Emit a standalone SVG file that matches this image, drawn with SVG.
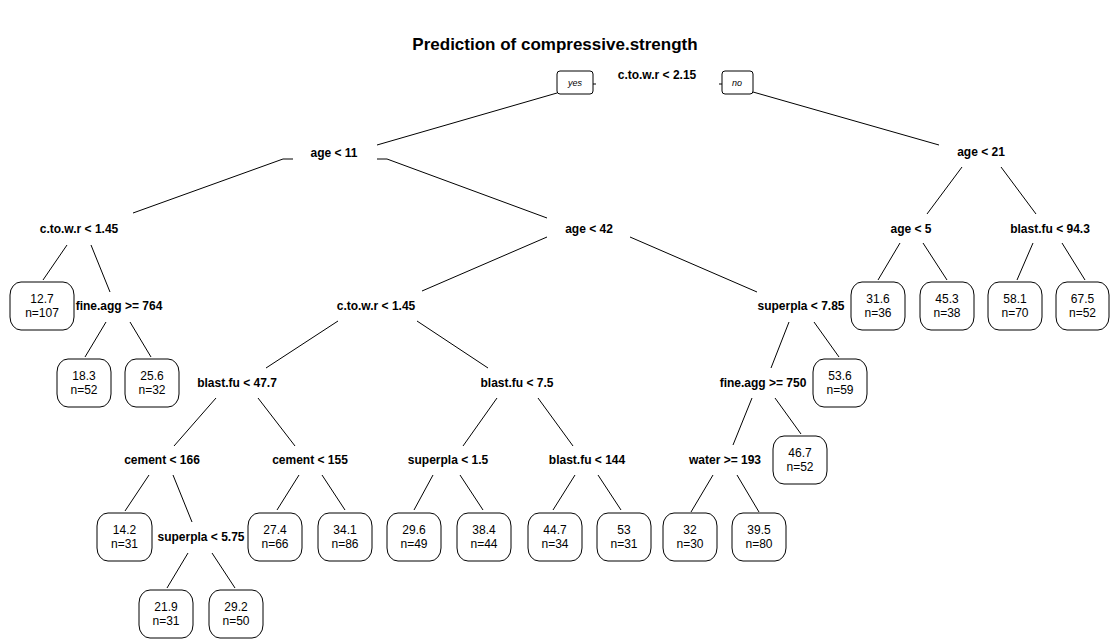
<svg xmlns="http://www.w3.org/2000/svg" width="1110" height="639" viewBox="0 0 1110 639">
<style>
.t{font-family:"Liberation Sans",Arial,sans-serif;font-size:17px;font-weight:bold;fill:#000;text-anchor:middle}
.s{font-family:"Liberation Sans",Arial,sans-serif;font-size:12px;font-weight:bold;fill:#000;text-anchor:middle}
.v{font-family:"Liberation Sans",Arial,sans-serif;font-size:12px;fill:#000;text-anchor:middle}
.yn{font-family:"Liberation Sans",Arial,sans-serif;font-size:9px;font-style:italic;fill:#000;text-anchor:middle}
.box{fill:#fff;stroke:#000;stroke-width:1}
.c line,.c polyline{stroke:#000;stroke-width:1;fill:none}
</style>
<rect width="1110" height="639" fill="#fff"/>
<text class="t" x="555" y="50">Prediction of compressive.strength</text>
<g class="c" id="connectors">
<line x1="557" y1="93" x2="377" y2="145"/>
<line x1="753" y1="92" x2="939" y2="145"/>
<line x1="593" y1="84" x2="596" y2="84"/>
<line x1="719" y1="84" x2="722" y2="84"/>
<polyline points="293,159 283,159 133,213"/>
<polyline points="377,159 387,159 547,218"/>
<line x1="962" y1="167" x2="927" y2="214"/>
<line x1="1001" y1="167" x2="1036" y2="214"/>
<line x1="67" y1="245" x2="43" y2="280"/>
<line x1="91" y1="245" x2="110" y2="292"/>
<line x1="547" y1="237" x2="422" y2="291"/>
<line x1="630" y1="237" x2="757" y2="292"/>
<line x1="900" y1="243" x2="878" y2="280"/>
<line x1="923" y1="243" x2="947" y2="280"/>
<line x1="1033" y1="243" x2="1017" y2="280"/>
<line x1="1062" y1="243" x2="1085" y2="280"/>
<line x1="106" y1="322" x2="85" y2="357"/>
<line x1="130" y1="322" x2="151" y2="357"/>
<line x1="338" y1="321" x2="266" y2="368"/>
<line x1="417" y1="321" x2="488" y2="368"/>
<line x1="789" y1="322" x2="771" y2="368"/>
<line x1="814" y1="322" x2="839" y2="357"/>
<line x1="216" y1="398" x2="174" y2="446"/>
<line x1="258" y1="398" x2="295" y2="446"/>
<line x1="497" y1="398" x2="463" y2="446"/>
<line x1="538" y1="398" x2="573" y2="446"/>
<line x1="752" y1="398" x2="733" y2="445"/>
<line x1="775" y1="398" x2="801" y2="434"/>
<line x1="149" y1="475" x2="125" y2="511"/>
<line x1="173" y1="475" x2="192" y2="522"/>
<line x1="299" y1="475" x2="277" y2="510"/>
<line x1="322" y1="475" x2="345" y2="510"/>
<line x1="433" y1="475" x2="414" y2="510"/>
<line x1="460" y1="475" x2="483" y2="510"/>
<line x1="575" y1="475" x2="553" y2="510"/>
<line x1="598" y1="475" x2="621" y2="510"/>
<line x1="713" y1="475" x2="691" y2="512"/>
<line x1="737" y1="475" x2="759" y2="512"/>
<line x1="188" y1="553" x2="167" y2="588"/>
<line x1="212" y1="553" x2="235" y2="588"/>
</g>
<g id="n_root"><text class="s" x="657" y="79">c.to.w.r &lt; 2.15</text></g>
<g id="n_yes"><rect class="box" x="557" y="71" width="36" height="23" rx="3"/><text class="yn" x="575" y="86">yes</text></g>
<g id="n_no"><rect class="box" x="722" y="71" width="31" height="23" rx="3"/><text class="yn" x="737" y="86">no</text></g>
<g id="n_age11"><text class="s" x="334" y="157">age &lt; 11</text></g>
<g id="n_age21"><text class="s" x="981" y="156">age &lt; 21</text></g>
<g id="n_ctow145a"><text class="s" x="79" y="233">c.to.w.r &lt; 1.45</text></g>
<g id="n_age42"><text class="s" x="589" y="233">age &lt; 42</text></g>
<g id="n_age5"><text class="s" x="911" y="233">age &lt; 5</text></g>
<g id="n_blast943"><text class="s" x="1050" y="233">blast.fu &lt; 94.3</text></g>
<g id="n_fine764"><text class="s" x="119" y="310">fine.agg &gt;= 764</text></g>
<g id="n_ctow145b"><text class="s" x="376" y="310">c.to.w.r &lt; 1.45</text></g>
<g id="n_super785"><text class="s" x="801" y="310">superpla &lt; 7.85</text></g>
<g id="n_blast477"><text class="s" x="237" y="387">blast.fu &lt; 47.7</text></g>
<g id="n_blast75"><text class="s" x="517" y="387">blast.fu &lt; 7.5</text></g>
<g id="n_fine750"><text class="s" x="763" y="387">fine.agg &gt;= 750</text></g>
<g id="n_cement166"><text class="s" x="162" y="464">cement &lt; 166</text></g>
<g id="n_cement155"><text class="s" x="310" y="464">cement &lt; 155</text></g>
<g id="n_super15"><text class="s" x="448" y="464">superpla &lt; 1.5</text></g>
<g id="n_blast144"><text class="s" x="587" y="464">blast.fu &lt; 144</text></g>
<g id="n_water193"><text class="s" x="725" y="464">water &gt;= 193</text></g>
<g id="n_super575"><text class="s" x="201" y="541">superpla &lt; 5.75</text></g>
<g id="leaf_127"><rect class="box" x="10" y="282" width="64" height="48" rx="11" ry="13"/><text class="v" x="42" y="303">12.7</text><text class="v" x="42" y="317">n=107</text></g>
<g id="leaf_183"><rect class="box" x="57" y="359" width="54" height="48" rx="11" ry="13"/><text class="v" x="84" y="380">18.3</text><text class="v" x="84" y="394">n=52</text></g>
<g id="leaf_256"><rect class="box" x="125" y="359" width="54" height="48" rx="11" ry="13"/><text class="v" x="152" y="380">25.6</text><text class="v" x="152" y="394">n=32</text></g>
<g id="leaf_142"><rect class="box" x="97" y="513" width="55" height="48" rx="11" ry="13"/><text class="v" x="124.5" y="534">14.2</text><text class="v" x="124.5" y="548">n=31</text></g>
<g id="leaf_219"><rect class="box" x="139" y="590" width="54" height="48" rx="11" ry="13"/><text class="v" x="166" y="611">21.9</text><text class="v" x="166" y="625">n=31</text></g>
<g id="leaf_292"><rect class="box" x="209" y="590" width="54" height="48" rx="11" ry="13"/><text class="v" x="236" y="611">29.2</text><text class="v" x="236" y="625">n=50</text></g>
<g id="leaf_274"><rect class="box" x="248" y="513" width="54" height="48" rx="11" ry="13"/><text class="v" x="275" y="534">27.4</text><text class="v" x="275" y="548">n=66</text></g>
<g id="leaf_341"><rect class="box" x="318" y="513" width="54" height="48" rx="11" ry="13"/><text class="v" x="345" y="534">34.1</text><text class="v" x="345" y="548">n=86</text></g>
<g id="leaf_296"><rect class="box" x="387" y="513" width="54" height="48" rx="11" ry="13"/><text class="v" x="414" y="534">29.6</text><text class="v" x="414" y="548">n=49</text></g>
<g id="leaf_384"><rect class="box" x="457" y="513" width="54" height="48" rx="11" ry="13"/><text class="v" x="484" y="534">38.4</text><text class="v" x="484" y="548">n=44</text></g>
<g id="leaf_447"><rect class="box" x="528" y="513" width="54" height="48" rx="11" ry="13"/><text class="v" x="555" y="534">44.7</text><text class="v" x="555" y="548">n=34</text></g>
<g id="leaf_53"><rect class="box" x="597" y="513" width="54" height="48" rx="11" ry="13"/><text class="v" x="624" y="534">53</text><text class="v" x="624" y="548">n=31</text></g>
<g id="leaf_32"><rect class="box" x="663" y="513" width="54" height="48" rx="11" ry="13"/><text class="v" x="690" y="534">32</text><text class="v" x="690" y="548">n=30</text></g>
<g id="leaf_395"><rect class="box" x="732" y="513" width="54" height="48" rx="11" ry="13"/><text class="v" x="759" y="534">39.5</text><text class="v" x="759" y="548">n=80</text></g>
<g id="leaf_467"><rect class="box" x="773" y="436" width="54" height="48" rx="11" ry="13"/><text class="v" x="800" y="457">46.7</text><text class="v" x="800" y="471">n=52</text></g>
<g id="leaf_536"><rect class="box" x="813" y="359" width="54" height="48" rx="11" ry="13"/><text class="v" x="840" y="380">53.6</text><text class="v" x="840" y="394">n=59</text></g>
<g id="leaf_316"><rect class="box" x="851" y="282" width="54" height="48" rx="11" ry="13"/><text class="v" x="878" y="303">31.6</text><text class="v" x="878" y="317">n=36</text></g>
<g id="leaf_453"><rect class="box" x="920" y="282" width="54" height="48" rx="11" ry="13"/><text class="v" x="947" y="303">45.3</text><text class="v" x="947" y="317">n=38</text></g>
<g id="leaf_581"><rect class="box" x="988" y="282" width="54" height="48" rx="11" ry="13"/><text class="v" x="1015" y="303">58.1</text><text class="v" x="1015" y="317">n=70</text></g>
<g id="leaf_675"><rect class="box" x="1056" y="282" width="53" height="48" rx="11" ry="13"/><text class="v" x="1082.5" y="303">67.5</text><text class="v" x="1082.5" y="317">n=52</text></g>
</svg>
